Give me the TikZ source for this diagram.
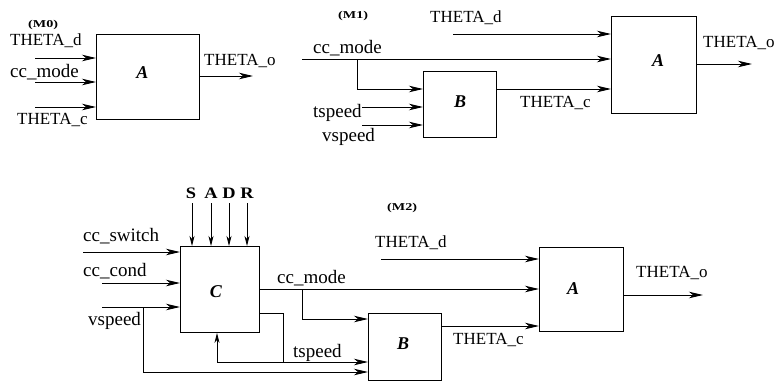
\documentclass[tikz,border=0pt]{standalone}
\usepackage{fontspec}
\usepackage{graphicx}
\setmainfont{Liberation Serif}
\usetikzlibrary{arrows.meta}
\begin{document}
\begin{tikzpicture}[x=1pt,y=-1pt,
  blk/.style={draw, line width=0.9pt, inner sep=0pt, anchor=north west},
  wire/.style={line width=0.9pt},
  arr/.style={wire, -{Stealth[length=14pt,width=6.5pt,inset=4pt]}},
  varr/.style={wire, -{Stealth[length=10pt,width=5pt,inset=3pt]}},
  capl/.style={anchor=base west, inner sep=0pt, font=\fontsize{17}{17}\selectfont},
  lowl/.style={anchor=base west, inner sep=0pt, font=\fontsize{19}{19}\selectfont},
  tagl/.style={anchor=base west, inner sep=0pt, font=\fontsize{10.5}{10.5}\selectfont\bfseries},
  boxl/.style={inner sep=0pt, font=\fontsize{18}{18}\selectfont\bfseries\itshape},
  sadr/.style={anchor=base, inner sep=0pt, font=\fontsize{16}{16}\selectfont\bfseries}
]
\useasboundingbox (0,0) rectangle (777,384);

% ---------------- M0 ----------------
\node[blk, minimum width=103pt, minimum height=85pt] (A0) at (96,34) {};
\node[boxl] (A0l) at (142.5,73) {A};
\node[tagl] (M0) at (28,27) {\scalebox{1.35}[1]{(M0)}};
\node[capl] (m0td) at (10,45) {THETA\_d};
\node[lowl] (m0cc) at (10,77) {cc\_mode};
\node[capl] (m0tc) at (17,124) {THETA\_c};
\node[capl] (m0to) at (204,65) {THETA\_o};
\coordinate (m0a) at (35,58);
\coordinate (m0b) at (35,82);
\coordinate (m0c) at (35,107);
\coordinate (m0o) at (253,76);
\draw[arr] (m0a) -- (m0a -| A0.west);
\draw[arr] (m0b) -- (m0b -| A0.west);
\draw[arr] (m0c) -- (m0c -| A0.west);
\draw[arr] (m0o -| A0.east) -- (m0o);

% ---------------- M1 ----------------
\node[blk, minimum width=85pt, minimum height=97pt] (A1) at (611,16) {};
\node[blk, minimum width=73pt, minimum height=66pt] (B1) at (423,71) {};
\node[boxl] (A1l) at (658,61) {A};
\node[boxl] (B1l) at (460,102) {B};
\node[tagl] (M1) at (338,18) {\scalebox{1.35}[1]{(M1)}};
\node[capl] (m1td) at (430,22) {THETA\_d};
\node[lowl] (m1cc) at (313,53) {cc\_mode};
\node[capl] (m1tc) at (520,107) {THETA\_c};
\node[lowl] (m1ts) at (313,117) {tspeed};
\node[lowl] (m1vs) at (322,141) {vspeed};
\node[capl] (m1to) at (703,47) {THETA\_o};
\coordinate (m1d) at (453,34);
\coordinate (m1m) at (302,59);
\coordinate (m1br) at (357,59);
\coordinate (m1bd) at (357,89);
\coordinate (m1t) at (362,107);
\coordinate (m1v) at (362,125);
\coordinate (m1o) at (752,64);
\draw[arr] (m1d) -- (m1d -| A1.west);
\draw[arr] (m1m) -- (m1m -| A1.west);
\draw[arr] (m1br) -- (m1bd) -- (m1bd -| B1.west);
\draw[arr] (m1bd -| B1.east) -- (m1bd -| A1.west);
\draw[arr] (m1t) -- (m1t -| B1.west);
\draw[arr] (m1v) -- (m1v -| B1.west);
\draw[arr] (m1o -| A1.east) -- (m1o);

% ---------------- M2 ----------------
\node[blk, minimum width=79pt, minimum height=86pt] (C2) at (180,246) {};
\node[blk, minimum width=73pt, minimum height=67pt] (B2) at (368,313) {};
\node[blk, minimum width=84pt, minimum height=84pt] (A2) at (539,247) {};
\node[boxl] (C2l) at (216,292) {C};
\node[boxl] (B2l) at (403,344) {B};
\node[boxl] (A2l) at (573,289) {A};
\node[tagl] (M2) at (387,210) {\scalebox{1.35}[1]{(M2)}};
\node[sadr] (sS) at (191,198) {\scalebox{1.15}[1]{S}};
\node[sadr] (sA) at (211,198) {\scalebox{1.15}[1]{A}};
\node[sadr] (sD) at (229,198) {\scalebox{1.15}[1]{D}};
\node[sadr] (sR) at (247,198) {\scalebox{1.15}[1]{R}};
\node[lowl] (m2sw) at (83,241) {cc\_switch};
\node[lowl] (m2cd) at (83,276) {cc\_cond};
\node[lowl] (m2vs) at (88,325) {vspeed};
\node[lowl] (m2cc) at (277,283) {cc\_mode};
\node[lowl] (m2ts) at (293,357) {tspeed};
\node[capl] (m2td) at (375,247) {THETA\_d};
\node[capl] (m2tc) at (453,344) {THETA\_c};
\node[capl] (m2to) at (636,277) {THETA\_o};
% S A D R inputs
\coordinate (pS) at (192,203);
\coordinate (pA) at (211,203);
\coordinate (pD) at (229,203);
\coordinate (pR) at (247,203);
\draw[varr] (pS) -- (pS |- C2.north);
\draw[varr] (pA) -- (pA |- C2.north);
\draw[varr] (pD) -- (pD |- C2.north);
\draw[varr] (pR) -- (pR |- C2.north);
% left inputs
\coordinate (m2a) at (83,252);
\coordinate (m2b) at (102,283);
\coordinate (m2c) at (102,307);
\coordinate (m2vb) at (143,307);
\coordinate (m2vd) at (143,372);
\draw[arr] (m2a) -- (m2a -| C2.west);
\draw[arr] (m2b) -- (m2b -| C2.west);
\draw[arr] (m2c) -- (m2c -| C2.west);
\draw[arr] (m2vb) -- (m2vd) -- (m2vd -| B2.west);
% cc_mode out of C
\coordinate (m2m) at (259,289);
\coordinate (m2mb) at (302,289);
\coordinate (m2md) at (302,319);
\draw[arr] (m2m -| C2.east) -- (m2m -| A2.west);
\draw[arr] (m2mb) -- (m2md) -- (m2md -| B2.west);
% tspeed out of C
\coordinate (m2t1) at (283,313);
\coordinate (m2t2) at (283,362);
\coordinate (m2t3) at (217,362);
\draw[arr] (m2t1 -| C2.east) -- (m2t1) -- (m2t2) -- (m2t2 -| B2.west);
\draw[varr] (m2t2) -- (m2t3) -- (m2t3 |- C2.south);
% A inputs / outputs
\coordinate (m2d) at (381,259);
\coordinate (m2c2) at (441,326);
\coordinate (m2o) at (703,295);
\draw[arr] (m2d) -- (m2d -| A2.west);
\draw[arr] (m2c2 -| B2.east) -- (m2c2 -| A2.west);
\draw[arr] (m2o -| A2.east) -- (m2o);
\end{tikzpicture}
\end{document}
